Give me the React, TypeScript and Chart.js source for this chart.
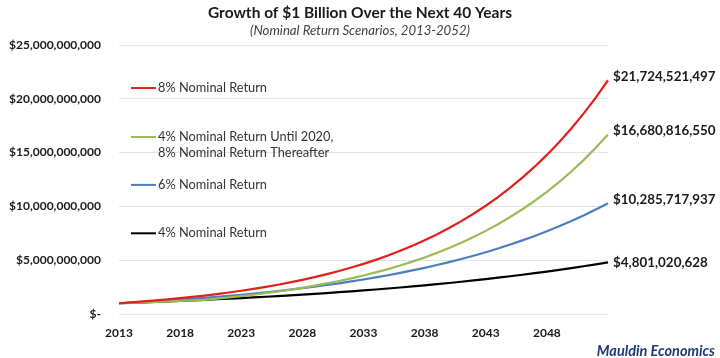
import { useEffect, useRef } from "react";
import { Chart, registerables } from "chart.js";
Chart.register(...registerables);

const FONT = "Lato, 'Open Sans', sans-serif";

const years = [
  "2013","2014","2015","2016","2017","2018","2019","2020","2021","2022",
  "2023","2024","2025","2026","2027","2028","2029","2030","2031","2032",
  "2033","2034","2035","2036","2037","2038","2039","2040","2041","2042",
  "2043","2044","2045","2046","2047","2048","2049","2050","2051","2052","2053",
];

// values in billions of dollars
const red8 = [
  1.0, 1.08, 1.1664, 1.2597, 1.3605, 1.4693, 1.5869, 1.7138, 1.8509, 1.999,
  2.1589, 2.3316, 2.5182, 2.7196, 2.9372, 3.1722, 3.4259, 3.7, 3.996, 4.3157,
  4.661, 5.0338, 5.4365, 5.8715, 6.3412, 6.8485, 7.3964, 7.9881, 8.6271, 9.3173,
  10.0627, 10.8677, 11.7371, 12.676, 13.6901, 14.7853, 15.9682, 17.2456, 18.6253, 20.1153, 21.7245,
];
const green4then8 = [
  1.0, 1.04, 1.0816, 1.1249, 1.1699, 1.2167, 1.2653, 1.3159, 1.4212, 1.5349,
  1.6577, 1.7903, 1.9335, 2.0882, 2.2552, 2.4356, 2.6305, 2.8409, 3.0682, 3.3137,
  3.5788, 3.8651, 4.1743, 4.5082, 4.8689, 5.2584, 5.6791, 6.1334, 6.6241, 7.154,
  7.7263, 8.3444, 9.012, 9.7329, 10.5116, 11.3525, 12.2607, 13.2415, 14.3009, 15.4449, 16.6808,
];
const blue6 = [
  1.0, 1.06, 1.1236, 1.191, 1.2625, 1.3382, 1.4185, 1.5036, 1.5938, 1.6895,
  1.7908, 1.8983, 2.0122, 2.1329, 2.2609, 2.3966, 2.5404, 2.6928, 2.8543, 3.0256,
  3.2071, 3.3996, 3.6035, 3.8197, 4.0489, 4.2919, 4.5494, 4.8223, 5.1117, 5.4184,
  5.7435, 6.0881, 6.4534, 6.8406, 7.251, 7.6861, 8.1473, 8.6361, 9.1543, 9.7035, 10.2857,
];
const black4 = [
  1.0, 1.04, 1.0816, 1.1249, 1.1699, 1.2167, 1.2653, 1.3159, 1.3686, 1.4233,
  1.4802, 1.5395, 1.601, 1.6651, 1.7317, 1.8009, 1.873, 1.9479, 2.0258, 2.1068,
  2.1911, 2.2788, 2.3699, 2.4647, 2.5633, 2.6658, 2.7725, 2.8834, 2.9987, 3.1187,
  3.2434, 3.3731, 3.5081, 3.6484, 3.7943, 3.9461, 4.1039, 4.2681, 4.4388, 4.6164, 4.801,
];

const seriesNames = [
  ["8% Nominal Return"],
  ["4% Nominal Return Until 2020,", "8% Nominal Return Thereafter"],
  ["6% Nominal Return"],
  ["4% Nominal Return"],
];
const endLabels = ["$21,724,521,497", "$16,680,816,550", "$10,285,717,937", "$4,801,020,628"];
const seriesColors = ["#E0201B", "#9BBB59", "#4A7EBF", "#000000"];
const legendLevels = [21.0, 16.45, 12.0, 7.5];

const titleText = "Growth of $1 Billion Over the Next 40 Years";
const subtitleText = "(Nominal Return Scenarios, 2013-2052)";
const sourceText = "Mauldin Economics";

const textPlugin = {
  id: "textPlugin",
  afterDraw(chart: any) {
    const { ctx, scales } = chart;
    const y = scales.y;
    ctx.save();
    // title
    ctx.textAlign = "center";
    ctx.textBaseline = "middle";
    ctx.fillStyle = "#1a1a1a";
    ctx.font = `bold 15.5px ${FONT}`;
    ctx.fillText(titleText, 360, 13);
    ctx.fillStyle = "#404040";
    ctx.font = `italic 13.2px ${FONT}`;
    ctx.fillText(subtitleText, 360, 31);
    // inline legend
    ctx.textAlign = "left";
    ctx.font = `12.8px ${FONT}`;
    legendLevels.forEach((lv, i) => {
      const py = y.getPixelForValue(lv);
      ctx.strokeStyle = seriesColors[i];
      ctx.lineWidth = 2;
      ctx.beginPath();
      ctx.moveTo(131, py);
      ctx.lineTo(156, py);
      ctx.stroke();
      ctx.fillStyle = "#333333";
      seriesNames[i].forEach((t, k) => ctx.fillText(t, 158, py + k * 16));
    });
    // end labels
    ctx.font = `bold 13.4px ${FONT}`;
    ctx.fillStyle = "#1a1a1a";
    chart.data.datasets.forEach((_ds: any, i: number) => {
      const meta = chart.getDatasetMeta(i);
      const pt = meta.data[meta.data.length - 1];
      ctx.fillText(endLabels[i], pt.x + 5, pt.y - (i === 3 ? 0 : 4));
    });
    // source
    ctx.textAlign = "right";
    ctx.fillStyle = "#1F3A78";
    ctx.font = `italic bold 14.5px ${FONT}`;
    ctx.fillText(sourceText, 715, 351);
    ctx.restore();
  },
};

export default function App() {
  const ref = useRef<HTMLCanvasElement>(null);
  useEffect(() => {
    const chart = new Chart(ref.current!, {
      type: "line",
      data: {
        labels: years,
        datasets: [red8, green4then8, blue6, black4].map((d, i) => ({
          label: seriesNames[i].join(" "),
          data: d,
          borderColor: seriesColors[i],
          backgroundColor: seriesColors[i],
          borderWidth: 2.2,
          pointRadius: 0,
          tension: 0,
          fill: false,
        })),
      },
      options: {
        responsive: false,
        animation: false,
        devicePixelRatio: 1,
        layout: { padding: { top: 45, right: 112, bottom: 14, left: 6 } },
        plugins: { legend: { display: false }, title: { display: false }, tooltip: { enabled: false } },
        scales: {
          x: {
            grid: { display: false, drawTicks: false },
            border: { display: false },
            afterFit: (s: any) => { s.height = 30; },
            ticks: {
              autoSkip: false,
              maxRotation: 0,
              padding: 12,
              color: "#1a1a1a",
              font: { family: FONT, size: 12, weight: "bold" },
              callback: (_v: any, i: number) => (i % 5 === 0 && i < 40 ? years[i] : null),
            },
          },
          y: {
            min: 0,
            max: 25,
            grid: { color: "#E3E3E3", lineWidth: 1, drawTicks: false },
            border: { display: false },
            afterFit: (s: any) => { s.width = 113; },
            ticks: {
              stepSize: 5,
              padding: 18,
              color: "#1a1a1a",
              font: { family: FONT, size: 12, weight: "bold" },
              callback: (v: any) => (v === 0 ? "$-" : "$" + Math.round(v * 1e9).toLocaleString("en-US")),
            },
          },
        },
      },
      plugins: [textPlugin],
    });
    return () => chart.destroy();
  }, []);
  return (
    <div style={{ position: "fixed", left: 0, top: 0, width: 720, height: 358, background: "#fff" }}>
      <canvas ref={ref} width={720} height={358} style={{ width: 720, height: 358, display: "block" }} />
    </div>
  );
}
